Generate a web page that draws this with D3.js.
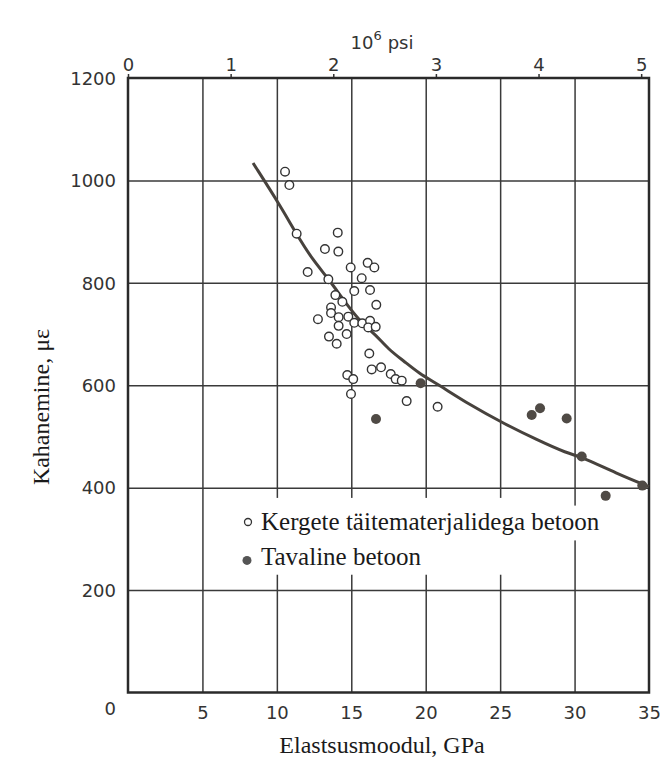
<!DOCTYPE html>
<html>
<head>
<meta charset="utf-8">
<script src="https://cdn.jsdelivr.net/npm/d3@7"></script>
<style>
  body { margin: 0; background: #fff; }
  .tick text { font-family: "DejaVu Sans", sans-serif; fill: #333; }
</style>
</head>
<body>
<svg id="chart" width="662" height="767"></svg>
<script>
// kerge täitematerjaliga betoon (open circles): E in GPa, strain in microstrain
const lightE = [10.55, 10.84, 11.33, 14.09, 13.23, 14.13, 12.07, 14.96, 16.1, 16.55,
  13.46, 15.7, 13.93, 15.2, 16.26, 14.4, 16.68, 13.64, 13.64, 12.76,
  14.15, 14.8, 15.2, 15.74, 16.26, 16.14, 16.64, 14.15, 14.69, 13.5,
  14.02, 16.21, 16.37, 17.0, 17.65, 17.98, 18.39, 14.73, 15.13, 14.98,
  18.72, 20.8]
const lightStrain = [1017, 991, 896, 898, 866, 861, 821, 830, 839, 830,
  807, 809, 776, 784, 786, 763, 757, 752, 741, 729,
  733, 734, 722, 721, 726, 713, 714, 716, 700, 695,
  681, 662, 631, 635, 622, 612, 609, 620, 612, 583,
  569, 558]
// tavaline betoon (filled circles)
const normalE = [19.66, 16.66, 27.12, 27.68, 29.47, 30.48, 34.55, 32.09]
const normalStrain = [604, 534, 542, 555, 535, 461, 404, 384]
// fitted curve
const curveE = [8.4, 10.2, 11.3, 12.4, 13.5, 14.7, 15.8, 16.6, 17.5, 18.5, 19.6, 20.7,
  23.0, 25.2, 27.5, 29.5, 30.5, 32.8, 35.0]
const curveStrain = [1034, 952, 896, 845, 807, 757, 718, 700, 670, 648, 622, 604,
  561, 526, 493, 467, 460, 428, 402]

const xTicks = [0, 5, 10, 15, 20, 25, 30, 35]
const yTicks = [0, 200, 400, 600, 800, 1000, 1200]
const psiTicks = [0, 1, 2, 3, 4, 5]
const GPA_PER_MPSI = 6.894757

const legendLabels = ["Kergete täitematerjalidega betoon", "Tavaline betoon"]

const margin = {top: 78, right: 13, bottom: 74.5, left: 128}
const width = 662 - margin.left - margin.right,
      height = 767 - margin.top - margin.bottom

let svg = d3.select("#chart")
let chart = svg.append("g")
    .attr("transform", "translate(" + margin.left + "," + margin.top + ")")

let x = d3.scaleLinear().domain([0, 35]).range([0, width])
let y = d3.scaleLinear().domain([0, 1200]).range([height, 0])
let psi = d3.scaleLinear().domain([0, 35 / GPA_PER_MPSI]).range([0, width])
let fmt = d3.format("d")

// vertical grid lines
chart.append("g")
    .attr("transform", "translate(0," + height + ")")
    .call(d3.axisBottom(x).tickValues(xTicks.slice(1, -1)).tickSize(-height).tickFormat(""))
    .call(g => g.select(".domain").remove())
    .selectAll("line").attr("stroke", "#3a3a3a").attr("stroke-width", 1.5)

// horizontal grid lines
chart.append("g")
    .call(d3.axisLeft(y).tickValues(yTicks.slice(1, -1)).tickSize(-width).tickFormat(""))
    .call(g => g.select(".domain").remove())
    .selectAll("line").attr("stroke", "#3a3a3a").attr("stroke-width", 1.5)

// bottom labels (no tick marks)
let xAxis = chart.append("g")
    .attr("transform", "translate(0," + height + ")")
    .call(d3.axisBottom(x).tickValues(xTicks.slice(1)).tickSize(0).tickPadding(14).tickFormat(fmt))
xAxis.select(".domain").remove()
xAxis.selectAll("text").style("font-size", "18px")

// left labels, the 0 sits below the corner
let yAxis = chart.append("g")
    .call(d3.axisLeft(y).tickValues(yTicks).tickSize(0).tickPadding(12).tickFormat(fmt))
yAxis.select(".domain").remove()
yAxis.selectAll("text").style("font-size", "18px")
    .attr("dy", d => d === 0 ? "1.2em" : "0.35em")

// top psi axis
let topAxis = chart.append("g")
    .call(d3.axisTop(psi).tickValues(psiTicks).tickSize(4).tickPadding(3).tickFormat(fmt))
topAxis.select(".domain").remove()
topAxis.selectAll("line").attr("stroke", "#333").attr("stroke-width", 1.5)
topAxis.selectAll("text").style("font-size", "18px")

// frame
chart.append("rect")
    .attr("width", width).attr("height", height)
    .attr("fill", "none").attr("stroke", "#2a2a2a").attr("stroke-width", 2.5)

// legend background patches over the grid
chart.append("rect")
    .attr("x", 112).attr("y", y(380)).attr("width", 272).attr("height", y(230) - y(380))
    .attr("fill", "#fff")
chart.append("rect")
    .attr("x", 112).attr("y", y(365)).attr("width", 362).attr("height", y(297) - y(365))
    .attr("fill", "#fff")

// curve
let line = d3.line()
    .x((d, i) => x(curveE[i]))
    .y(d => y(d))
    .curve(d3.curveBasis)
chart.append("path")
    .datum(curveStrain)
    .attr("d", line)
    .attr("fill", "none")
    .attr("stroke", "#47423d")
    .attr("stroke-width", 3)

chart.append("g").selectAll("circle")
    .data(lightStrain)
    .enter().append("circle")
    .attr("cx", (d, i) => x(lightE[i]))
    .attr("cy", d => y(d))
    .attr("r", 4.3)
    .attr("fill", "#fff")
    .attr("stroke", "#333")
    .attr("stroke-width", 1.4)

chart.append("g").selectAll("circle")
    .data(normalStrain)
    .enter().append("circle")
    .attr("cx", (d, i) => x(normalE[i]))
    .attr("cy", d => y(d))
    .attr("r", 5)
    .attr("fill", "#4f4a45")

// legend
let legend = chart.append("g")
legend.append("circle")
    .attr("cx", 120).attr("cy", y(333)).attr("r", 3.5)
    .attr("fill", "#fff").attr("stroke", "#333").attr("stroke-width", 1.3)
legend.append("circle")
    .attr("cx", 119).attr("cy", y(258)).attr("r", 4.5)
    .attr("fill", "#555")
legend.selectAll("text")
    .data(legendLabels)
    .enter().append("text")
    .attr("x", 133)
    .attr("y", (d, i) => i === 0 ? y(317) : y(249))
    .style("font-family", "'Liberation Serif', serif")
    .style("font-size", "25px")
    .attr("fill", "#1a1a1a")
    .text(d => d)

// axis titles
svg.append("text")
    .attr("x", 382).attr("y", 753)
    .attr("text-anchor", "middle")
    .style("font-family", "'Liberation Serif', serif")
    .style("font-size", "24px")
    .attr("fill", "#1a1a1a")
    .text("Elastsusmoodul, GPa")

svg.append("text")
    .attr("transform", "translate(49,407) rotate(-90)")
    .attr("text-anchor", "middle")
    .style("font-family", "'Liberation Serif', serif")
    .style("font-size", "24px")
    .attr("fill", "#1a1a1a")
    .text("Kahanemine, με")

let psiTitle = svg.append("text")
    .attr("x", 382).attr("y", 49)
    .attr("text-anchor", "middle")
    .style("font-family", "'DejaVu Sans', sans-serif")
    .style("font-size", "18px")
    .attr("fill", "#333")
psiTitle.append("tspan").text("10")
psiTitle.append("tspan").attr("dy", -9).style("font-size", "13px").text("6")
psiTitle.append("tspan").attr("dy", 9).attr("dx", 6).text("psi")
</script>
</body>
</html>
